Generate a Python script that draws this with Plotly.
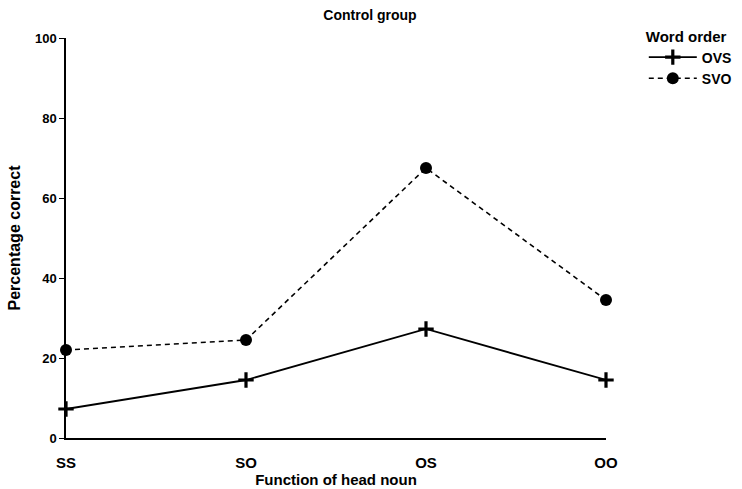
import plotly.graph_objects as go

# Function of head noun (x categories)
functions = ["SS", "SO", "OS", "OO"]

# Percentage correct per word order
ovs_values = [7.25, 14.5, 27.25, 14.5]
svo_values = [22.0, 24.5, 67.5, 34.5]

y_ticks = [0, 20, 40, 60, 80, 100]

FONT = "Liberation Sans, Arial, sans-serif"

fig = go.Figure()

fig.add_trace(go.Scatter(
    x=functions, y=ovs_values, name="OVS",
    mode="lines+markers",
    line=dict(color="black", width=1.8),
    marker=dict(symbol="cross-thin", size=11, color="black",
                line=dict(color="black", width=3.2)),
    cliponaxis=False,
))

fig.add_trace(go.Scatter(
    x=functions, y=svo_values, name="SVO",
    mode="lines+markers",
    line=dict(color="black", width=1.6, dash="5px,4px"),
    marker=dict(symbol="circle", size=12, color="black"),
    cliponaxis=False,
))

fig.update_layout(
    width=742, height=489,
    margin=dict(l=66, r=136, t=38, b=51, autoexpand=False),
    paper_bgcolor="white", plot_bgcolor="white",
    font=dict(family=FONT, size=13, color="black", weight="bold"),
    title=dict(text="Control group", x=0.563, xref="paper", xanchor="center",
               y=0.97, yanchor="middle",
               font=dict(size=14, weight="bold")),
    showlegend=True,
    legend=dict(
        title=dict(text="Word order", font=dict(size=15, weight="bold")),
        x=1.07, xanchor="left", y=1.04, yanchor="top",
        itemwidth=48, tracegroupgap=0,
        font=dict(size=14, weight="bold"),
        bgcolor="rgba(0,0,0,0)",
    ),
    xaxis=dict(
        type="category", categoryorder="array", categoryarray=functions,
        range=[0, 3], showgrid=False, zeroline=False, automargin=False,
        showline=True, linecolor="black", linewidth=1.5,
        ticks="", ticklabelstandoff=10,
        title=dict(text="Function of head noun", standoff=0,
                   font=dict(size=15, weight="bold")),
        tickfont=dict(size=15, weight="bold"),
    ),
    yaxis=dict(
        range=[0, 100], tickvals=y_ticks, showgrid=False, zeroline=False,
        automargin=False,
        showline=True, linecolor="black", linewidth=1.5,
        ticks="outside", ticklen=5, tickwidth=1.2, tickcolor="black",
        title=dict(text="Percentage correct", standoff=10,
                   font=dict(size=16, weight="bold")),
        tickfont=dict(size=13, weight="bold"),
    ),
)

fig.write_html("out.html")
